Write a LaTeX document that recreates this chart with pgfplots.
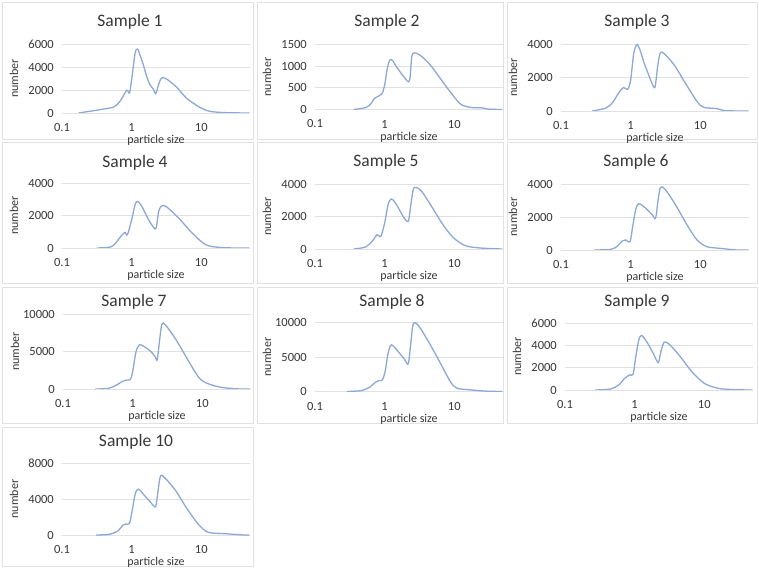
\documentclass[border=0pt]{standalone}
\usepackage{fontspec}
\setmainfont{Carlito}
\usepackage{pgfplots}
\pgfplotsset{compat=1.18}

\definecolor{linecol}{RGB}{140,168,214}
\definecolor{txt}{RGB}{55,55,55}
\definecolor{framecol}{RGB}{225,225,225}

\begin{document}
\begin{tikzpicture}
\path (0pt,0pt) rectangle (759pt,568pt);

% chart frames
\draw[framecol, line width=0.6pt] (2pt,429pt) rectangle (253pt,566pt);
\draw[framecol, line width=0.6pt] (257pt,429pt) rectangle (503pt,566pt);
\draw[framecol, line width=0.6pt] (507pt,429pt) rectangle (757pt,566pt);
\draw[framecol, line width=0.6pt] (2pt,285pt) rectangle (253pt,426pt);
\draw[framecol, line width=0.6pt] (257pt,285pt) rectangle (503pt,426pt);
\draw[framecol, line width=0.6pt] (507pt,285pt) rectangle (757pt,426pt);
\draw[framecol, line width=0.6pt] (2pt,145pt) rectangle (253pt,281pt);
\draw[framecol, line width=0.6pt] (257pt,145pt) rectangle (503pt,281pt);
\draw[framecol, line width=0.6pt] (507pt,145pt) rectangle (757pt,281pt);
\draw[framecol, line width=0.6pt] (2pt,2pt) rectangle (253pt,141pt);

% titles
\node[font=\fontsize{17.5}{20}\selectfont, text=txt] at (130pt,546pt) {Sample 1};
\node[font=\fontsize{17.5}{20}\selectfont, text=txt] at (387pt,546pt) {Sample 2};
\node[font=\fontsize{17.5}{20}\selectfont, text=txt] at (637pt,546pt) {Sample 3};
\node[font=\fontsize{17.5}{20}\selectfont, text=txt] at (135pt,405pt) {Sample 4};
\node[font=\fontsize{17.5}{20}\selectfont, text=txt] at (386pt,406pt) {Sample 5};
\node[font=\fontsize{17.5}{20}\selectfont, text=txt] at (636pt,406pt) {Sample 6};
\node[font=\fontsize{17.5}{20}\selectfont, text=txt] at (134pt,266pt) {Sample 7};
\node[font=\fontsize{17.5}{20}\selectfont, text=txt] at (392pt,266pt) {Sample 8};
\node[font=\fontsize{17.5}{20}\selectfont, text=txt] at (637pt,266pt) {Sample 9};
\node[font=\fontsize{17.5}{20}\selectfont, text=txt] at (136pt,126pt) {Sample 10};

% Sample 1
\begin{axis}[scale only axis, width=188pt, height=69pt, anchor=south west, at={(62pt,455pt)},
  xmode=log, xmin=0.1, xmax=50, ymin=0, ymax=6000, scaled y ticks=false,
  xtick={0.1,1,10}, xticklabels={0.1,1,10}, ytick={0,2000,4000,6000}, yticklabels={0,2000,4000,6000},
  ymajorgrids, major grid style={framecol, line width=0.7pt},
  axis line style={draw=none}, tick style={draw=none},
  tick label style={font=\fontsize{12.5}{14}\selectfont, text=txt, inner sep=0pt},
  xticklabel style={anchor=center, yshift=-14.5pt}, yticklabel style={anchor=east, xshift=-8pt},
  xlabel={particle size}, ylabel={number},
  xlabel style={font=\fontsize{12}{14}\selectfont, text=txt, at={(axis description cs:0.5,0)}, anchor=center, yshift=-27.5pt},
  every axis y label/.style={font=\fontsize{12}{14}\selectfont, text=txt, at={(axis description cs:-0.255,0.5)}, anchor=center, rotate=90}]
\addplot[linecol, line width=1.3pt, smooth] coordinates {(0.173,0) (0.35,290) (0.55,520) (0.68,1015) (0.85,1970) (0.93,1740)
  (1.0,2900) (1.12,5200) (1.22,5560) (1.31,5070) (1.47,4200) (1.64,3190) (1.83,2460) (2.04,2090) (2.22,1680)
  (2.43,2460) (2.69,3040) (3.16,2960) (4.4,2260) (6.1,1300) (9.5,490) (13.2,145) (22.8,30) (49,0)};
\end{axis}

% Sample 2
\begin{axis}[scale only axis, width=188pt, height=65pt, anchor=south west, at={(315pt,458.5pt)},
  xmode=log, xmin=0.1, xmax=50, ymin=0, ymax=1500, scaled y ticks=false,
  xtick={0.1,1,10}, xticklabels={0.1,1,10}, ytick={0,500,1000,1500}, yticklabels={0,500,1000,1500},
  ymajorgrids, major grid style={framecol, line width=0.7pt},
  axis line style={draw=none}, tick style={draw=none},
  tick label style={font=\fontsize{12.5}{14}\selectfont, text=txt, inner sep=0pt},
  xticklabel style={anchor=center, yshift=-14.5pt}, yticklabel style={anchor=east, xshift=-8pt},
  xlabel={particle size}, ylabel={number},
  xlabel style={font=\fontsize{12}{14}\selectfont, text=txt, at={(axis description cs:0.5,0)}, anchor=center, yshift=-27.5pt},
  every axis y label/.style={font=\fontsize{12}{14}\selectfont, text=txt, at={(axis description cs:-0.255,0.5)}, anchor=center, rotate=90}]
\addplot[linecol, line width=1.3pt, smooth] coordinates {(0.36,0) (0.54,46) (0.64,140) (0.71,254) (0.83,315) (0.92,370)
  (1.0,560) (1.08,910) (1.18,1140) (1.3,1130) (1.48,985) (1.85,770) (2.19,640)
  (2.32,754) (2.45,1215) (2.65,1307) (3.25,1250) (4.56,1020) (7.1,600) (9.5,330)
  (12.5,115) (17.5,46) (24.5,40) (31,8) (49,0)};
\end{axis}

% Sample 3
\begin{axis}[scale only axis, width=188pt, height=67pt, anchor=south west, at={(561pt,457pt)},
  xmode=log, xmin=0.1, xmax=50, ymin=0, ymax=4000, scaled y ticks=false,
  xtick={0.1,1,10}, xticklabels={0.1,1,10}, ytick={0,2000,4000}, yticklabels={0,2000,4000},
  ymajorgrids, major grid style={framecol, line width=0.7pt},
  axis line style={draw=none}, tick style={draw=none},
  tick label style={font=\fontsize{12.5}{14}\selectfont, text=txt, inner sep=0pt},
  xticklabel style={anchor=center, yshift=-14.5pt}, yticklabel style={anchor=east, xshift=-8pt},
  xlabel={particle size}, ylabel={number},
  xlabel style={font=\fontsize{12}{14}\selectfont, text=txt, at={(axis description cs:0.5,0)}, anchor=center, yshift=-27.5pt},
  every axis y label/.style={font=\fontsize{12}{14}\selectfont, text=txt, at={(axis description cs:-0.255,0.5)}, anchor=center, rotate=90}]
\addplot[linecol, line width=1.3pt, smooth] coordinates {(0.28,0) (0.43,160) (0.54,460) (0.67,1060) (0.79,1400) (0.91,1300)
  (1.0,1860) (1.11,3460) (1.23,3960) (1.36,3650) (1.55,2900) (1.76,2300) (2.0,1700) (2.23,1420)
  (2.44,2660) (2.66,3460) (3.03,3420) (4.2,2760) (6.1,1660) (9.0,560) (11.2,220)
  (17.4,140) (22.8,20) (49,0)};
\end{axis}

% Sample 4
\begin{axis}[scale only axis, width=188pt, height=65pt, anchor=south west, at={(62pt,320pt)},
  xmode=log, xmin=0.1, xmax=50, ymin=0, ymax=4000, scaled y ticks=false,
  xtick={0.1,1,10}, xticklabels={0.1,1,10}, ytick={0,2000,4000}, yticklabels={0,2000,4000},
  ymajorgrids, major grid style={framecol, line width=0.7pt},
  axis line style={draw=none}, tick style={draw=none},
  tick label style={font=\fontsize{12.5}{14}\selectfont, text=txt, inner sep=0pt},
  xticklabel style={anchor=center, yshift=-14.5pt}, yticklabel style={anchor=east, xshift=-8pt},
  xlabel={particle size}, ylabel={number},
  xlabel style={font=\fontsize{12}{14}\selectfont, text=txt, at={(axis description cs:0.5,0)}, anchor=center, yshift=-27.5pt},
  every axis y label/.style={font=\fontsize{12}{14}\selectfont, text=txt, at={(axis description cs:-0.255,0.5)}, anchor=center, rotate=90}]
\addplot[linecol, line width=1.3pt, smooth] coordinates {(0.32,0) (0.5,60) (0.59,310) (0.7,720) (0.8,960) (0.87,820)
  (1.0,1740) (1.12,2670) (1.22,2870) (1.4,2560) (1.75,1740) (2.06,1270) (2.25,1230)
  (2.44,2250) (2.72,2600) (3.2,2520) (4.7,1850) (7.4,920) (11.5,205) (17.9,40) (31,0) (49,0)};
\end{axis}

% Sample 5
\begin{axis}[scale only axis, width=188pt, height=65pt, anchor=south west, at={(315pt,319pt)},
  xmode=log, xmin=0.1, xmax=50, ymin=0, ymax=4000, scaled y ticks=false,
  xtick={0.1,1,10}, xticklabels={0.1,1,10}, ytick={0,2000,4000}, yticklabels={0,2000,4000},
  ymajorgrids, major grid style={framecol, line width=0.7pt},
  axis line style={draw=none}, tick style={draw=none},
  tick label style={font=\fontsize{12.5}{14}\selectfont, text=txt, inner sep=0pt},
  xticklabel style={anchor=center, yshift=-14.5pt}, yticklabel style={anchor=east, xshift=-8pt},
  xlabel={particle size}, ylabel={number},
  xlabel style={font=\fontsize{12}{14}\selectfont, text=txt, at={(axis description cs:0.5,0)}, anchor=center, yshift=-27.5pt},
  every axis y label/.style={font=\fontsize{12}{14}\selectfont, text=txt, at={(axis description cs:-0.255,0.5)}, anchor=center, rotate=90}]
\addplot[linecol, line width=1.3pt, smooth] coordinates {(0.36,0) (0.53,120) (0.66,470) (0.78,880) (0.88,780)
  (1.0,1600) (1.12,2730) (1.25,3080) (1.48,2730) (1.84,2010) (2.18,1700)
  (2.36,2630) (2.57,3650) (2.81,3790) (3.4,3550) (4.7,2630) (7.0,1440) (9.8,680)
  (14.4,205) (23.6,60) (49,0)};
\end{axis}

% Sample 6
\begin{axis}[scale only axis, width=188pt, height=66pt, anchor=south west, at={(561pt,318pt)},
  xmode=log, xmin=0.1, xmax=50, ymin=0, ymax=4000, scaled y ticks=false,
  xtick={0.1,1,10}, xticklabels={0.1,1,10}, ytick={0,2000,4000}, yticklabels={0,2000,4000},
  ymajorgrids, major grid style={framecol, line width=0.7pt},
  axis line style={draw=none}, tick style={draw=none},
  tick label style={font=\fontsize{12.5}{14}\selectfont, text=txt, inner sep=0pt},
  xticklabel style={anchor=center, yshift=-14.5pt}, yticklabel style={anchor=east, xshift=-8pt},
  xlabel={particle size}, ylabel={number},
  xlabel style={font=\fontsize{12}{14}\selectfont, text=txt, at={(axis description cs:0.5,0)}, anchor=center, yshift=-27.5pt},
  every axis y label/.style={font=\fontsize{12}{14}\selectfont, text=txt, at={(axis description cs:-0.255,0.5)}, anchor=center, rotate=90}]
\addplot[linecol, line width=1.3pt, smooth] coordinates {(0.3,0) (0.52,40) (0.65,245) (0.76,550) (0.85,610) (0.98,510)
  (1.06,1320) (1.18,2440) (1.31,2800) (1.64,2540) (2.04,2130) (2.28,1930)
  (2.46,2940) (2.68,3800) (3.16,3650) (4.4,2740) (6.45,1520) (8.96,610) (12.4,200)
  (19.3,100) (33,0) (49,0)};
\end{axis}

% Sample 7
\begin{axis}[scale only axis, width=188pt, height=75pt, anchor=south west, at={(63pt,179pt)},
  xmode=log, xmin=0.1, xmax=50, ymin=0, ymax=10000, scaled y ticks=false,
  xtick={0.1,1,10}, xticklabels={0.1,1,10}, ytick={0,5000,10000}, yticklabels={0,5000,10000},
  ymajorgrids, major grid style={framecol, line width=0.7pt},
  axis line style={draw=none}, tick style={draw=none},
  tick label style={font=\fontsize{12.5}{14}\selectfont, text=txt, inner sep=0pt},
  xticklabel style={anchor=center, yshift=-14.5pt}, yticklabel style={anchor=east, xshift=-8pt},
  xlabel={particle size}, ylabel={number},
  xlabel style={font=\fontsize{12}{14}\selectfont, text=txt, at={(axis description cs:0.5,0)}, anchor=center, yshift=-27.5pt},
  every axis y label/.style={font=\fontsize{12}{14}\selectfont, text=txt, at={(axis description cs:-0.255,0.5)}, anchor=center, rotate=90}]
\addplot[linecol, line width=1.3pt, smooth] coordinates {(0.29,0) (0.45,90) (0.59,535) (0.7,980) (0.83,1200) (0.93,1290)
  (1.0,2320) (1.12,5000) (1.26,5890) (1.54,5530) (1.82,5000) (2.1,4330) (2.25,3880)
  (2.41,6110) (2.63,8650) (3.0,8470) (4.2,6560) (6.2,3880) (9.1,1430) (12.8,620)
  (20,180) (35,0) (49,0)};
\end{axis}

% Sample 8
\begin{axis}[scale only axis, width=188pt, height=69pt, anchor=south west, at={(315pt,176.5pt)},
  xmode=log, xmin=0.1, xmax=50, ymin=0, ymax=10000, scaled y ticks=false,
  xtick={0.1,1,10}, xticklabels={0.1,1,10}, ytick={0,5000,10000}, yticklabels={0,5000,10000},
  ymajorgrids, major grid style={framecol, line width=0.7pt},
  axis line style={draw=none}, tick style={draw=none},
  tick label style={font=\fontsize{12.5}{14}\selectfont, text=txt, inner sep=0pt},
  xticklabel style={anchor=center, yshift=-14.5pt}, yticklabel style={anchor=east, xshift=-8pt},
  xlabel={particle size}, ylabel={number},
  xlabel style={font=\fontsize{12}{14}\selectfont, text=txt, at={(axis description cs:0.5,0)}, anchor=center, yshift=-27.5pt},
  every axis y label/.style={font=\fontsize{12}{14}\selectfont, text=txt, at={(axis description cs:-0.255,0.5)}, anchor=center, rotate=90}]
\addplot[linecol, line width=1.3pt, smooth] coordinates {(0.29,0) (0.47,145) (0.63,725) (0.74,1350) (0.85,1590) (0.93,1690)
  (1.02,3000) (1.12,5560) (1.25,6760) (1.56,5800) (1.95,4590) (2.18,4010)
  (2.36,6760) (2.57,9760) (3.04,9570) (4.25,7250) (6.3,4110) (8.75,1450) (10.9,480)
  (17,240) (29,50) (49,0)};
\end{axis}

% Sample 9
\begin{axis}[scale only axis, width=188pt, height=67pt, anchor=south west, at={(565pt,178pt)},
  xmode=log, xmin=0.1, xmax=50, ymin=0, ymax=6000, scaled y ticks=false,
  xtick={0.1,1,10}, xticklabels={0.1,1,10}, ytick={0,2000,4000,6000}, yticklabels={0,2000,4000,6000},
  ymajorgrids, major grid style={framecol, line width=0.7pt},
  axis line style={draw=none}, tick style={draw=none},
  tick label style={font=\fontsize{12.5}{14}\selectfont, text=txt, inner sep=0pt},
  xticklabel style={anchor=center, yshift=-14.5pt}, yticklabel style={anchor=east, xshift=-8pt},
  xlabel={particle size}, ylabel={number},
  xlabel style={font=\fontsize{12}{14}\selectfont, text=txt, at={(axis description cs:0.5,0)}, anchor=center, yshift=-27.5pt},
  every axis y label/.style={font=\fontsize{12}{14}\selectfont, text=txt, at={(axis description cs:-0.255,0.5)}, anchor=center, rotate=90}]
\addplot[linecol, line width=1.3pt, smooth] coordinates {(0.27,0) (0.45,90) (0.59,450) (0.72,1050) (0.85,1350) (0.95,1410)
  (1.03,2850) (1.14,4410) (1.25,4890) (1.48,4350) (1.84,3300) (2.18,2460)
  (2.38,3450) (2.66,4290) (3.2,4050) (4.5,3000) (6.6,1650) (10,600) (15.8,150)
  (27.5,30) (49,0)};
\end{axis}

% Sample 10
\begin{axis}[scale only axis, width=188pt, height=72pt, anchor=south west, at={(62pt,33pt)},
  xmode=log, xmin=0.1, xmax=50, ymin=0, ymax=8000, scaled y ticks=false,
  xtick={0.1,1,10}, xticklabels={0.1,1,10}, ytick={0,4000,8000}, yticklabels={0,4000,8000},
  ymajorgrids, major grid style={framecol, line width=0.7pt},
  axis line style={draw=none}, tick style={draw=none},
  tick label style={font=\fontsize{12.5}{14}\selectfont, text=txt, inner sep=0pt},
  xticklabel style={anchor=center, yshift=-14.5pt}, yticklabel style={anchor=east, xshift=-8pt},
  xlabel={particle size}, ylabel={number},
  xlabel style={font=\fontsize{12}{14}\selectfont, text=txt, at={(axis description cs:0.5,0)}, anchor=center, yshift=-27.5pt},
  every axis y label/.style={font=\fontsize{12}{14}\selectfont, text=txt, at={(axis description cs:-0.255,0.5)}, anchor=center, rotate=90}]
\addplot[linecol, line width=1.3pt, smooth] coordinates {(0.31,0) (0.48,75) (0.63,440) (0.75,1100) (0.83,1220) (0.93,1290)
  (1.01,2580) (1.13,4610) (1.26,5090) (1.51,4430) (1.88,3620) (2.21,3140)
  (2.38,4800) (2.6,6570) (3.06,6270) (4.24,4980) (6.2,2950) (9.1,1180) (12.6,300)
  (21.6,150) (41,0) (49,0)};
\end{axis}
\end{tikzpicture}
\end{document}
